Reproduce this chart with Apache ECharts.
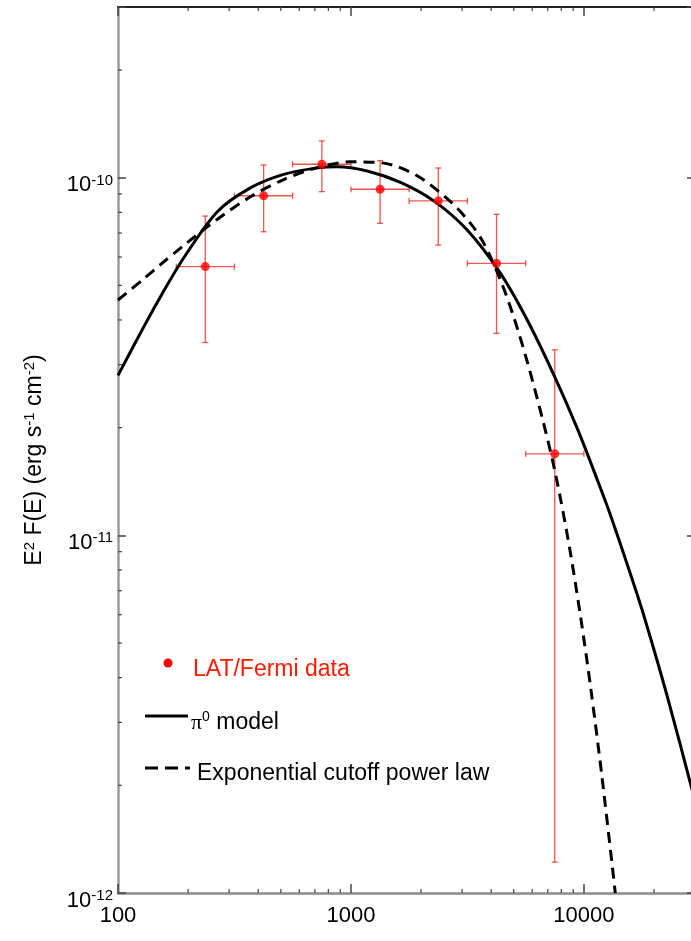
<!DOCTYPE html>
<html><head><meta charset="utf-8">
<script src="https://cdn.jsdelivr.net/npm/echarts@6/dist/echarts.min.js"></script>
<style>html,body{margin:0;padding:0;background:#fff}#c{width:691px;height:941px}</style>
</head><body><div id="c"></div>
<script>
// LAT/Fermi data points
const energy   = [237, 422, 750, 1334, 2371, 4217, 7499];
const eLow     = [178, 316, 562, 1000, 1778, 3162, 5623];
const eHigh    = [316, 562, 1000, 1778, 3162, 5623, 10000];
const flux     = [5.64e-11, 8.9e-11, 1.09e-10, 9.28e-11, 8.61e-11, 5.76e-11, 1.69e-11];
const fluxLow  = [3.46e-11, 7.06e-11, 9.14e-11, 7.45e-11, 6.48e-11, 3.67e-11, 1.22e-12];
const fluxHigh = [7.81e-11, 1.085e-10, 1.267e-10, 1.116e-10, 1.064e-10, 7.9e-11, 3.30e-11];

// pi0 model curve
const piE = [100, 128.8, 152, 191.3, 266.3, 370.1, 514.4, 715.9, 872.4, 1174, 1632, 2268, 3156, 4387, 5713, 7431, 9367, 11419, 13023, 15873, 18102, 22880, 30000];
const piF = [2.80e-11, 3.82e-11, 4.64e-11, 5.96e-11, 8.02e-11, 9.36e-11, 1.021e-10, 1.065e-10, 1.073e-10, 1.044e-10, 9.70e-11, 8.61e-11, 7.14e-11, 5.40e-11, 4.00e-11, 2.81e-11, 1.99e-11, 1.43e-11, 1.136e-11, 7.77e-12, 5.96e-12, 3.52e-12, 1.81e-12];

// exponential cutoff power law curve
const cutE = [100, 128.8, 152, 191.3, 266.3, 370.1, 514.4, 715.9, 995.2, 1383, 1925, 2676, 3261, 3720, 4387, 5004, 5713, 6627, 7317, 7943, 8769, 9678, 10686, 11995, 13645];
const cutF = [4.55e-11, 5.21e-11, 5.71e-11, 6.46e-11, 7.64e-11, 8.84e-11, 9.88e-11, 1.067e-10, 1.107e-10, 1.098e-10, 1.012e-10, 8.57e-11, 7.45e-11, 6.55e-11, 5.17e-11, 4.07e-11, 3.06e-11, 2.13e-11, 1.633e-11, 1.264e-11, 8.88e-12, 5.93e-12, 3.77e-12, 2.08e-12, 1.0e-12];

// axes
const xMajorTicks = [100, 1000, 10000];
const xTickLabels = ['100', '1000', '10000'];
const yMajorTicks = [1e-12, 1e-11, 1e-10];
const yTickExponents = ['-12', '-11', '-10'];
const xMinorTicks = [200, 300, 400, 500, 600, 700, 800, 900, 2000, 3000, 4000, 5000, 6000, 7000, 8000, 9000, 20000];
const yMinorTicks = [2e-12, 3e-12, 4e-12, 5e-12, 6e-12, 7e-12, 8e-12, 9e-12, 2e-11, 3e-11, 4e-11, 5e-11, 6e-11, 7e-11, 8e-11, 9e-11, 2e-10];
const X_MIN = 100, X_MAX = 30000, Y_MIN = 1e-12, Y_MAX = 3e-10;

const FONT = 'Liberation Sans, Arial, Helvetica, sans-serif';
function matchIndex(arr, v) {
  for (let i = 0; i < arr.length; i++) if (Math.abs(Math.log10(v) - Math.log10(arr[i])) < 1e-6) return i;
  return -1;
}

const chart = echarts.init(document.getElementById('c'), null, {renderer: 'canvas'});

const tickLine = {color: '#444', width: 1.5};
const minorData = xMinorTicks.map(v => [v, 0]).concat(yMinorTicks.map(v => [v, 1]));

const option = {
  animation: false,
  backgroundColor: '#fff',
  grid: {left: 118, right: -4, top: 7, bottom: 48, containLabel: false, outerBoundsMode: 'none'},
  xAxis: [
    {type: 'log', logBase: 10, min: X_MIN, max: X_MAX, position: 'bottom',
     axisLine: {show: true, lineStyle: {color: '#8c8c8c', width: 2.5}},
     axisTick: {show: true, inside: true, length: 9, lineStyle: tickLine},
     axisLabel: {show: true, margin: 12, fontSize: 22, color: '#000', fontFamily: FONT,
       formatter: v => { const i = matchIndex(xMajorTicks, v); return i < 0 ? '' : xTickLabels[i]; }},
     splitLine: {show: false}, minorTick: {show: false}},
    {type: 'log', logBase: 10, min: X_MIN, max: X_MAX, position: 'top',
     axisLine: {show: true, lineStyle: {color: '#222', width: 2}},
     axisTick: {show: true, inside: true, length: 9, lineStyle: tickLine},
     axisLabel: {show: false}, splitLine: {show: false}}
  ],
  yAxis: [
    {type: 'log', logBase: 10, min: Y_MIN, max: Y_MAX, position: 'left',
     axisLine: {show: true, lineStyle: {color: '#9a9a9a', width: 2.5}},
     axisTick: {show: true, inside: true, length: 8, lineStyle: tickLine},
     axisLabel: {show: true, margin: 5, padding: [15, 0, 0, 0],
       formatter: v => { const i = matchIndex(yMajorTicks, v); return i < 0 ? '' : '{b|10}{s|' + yTickExponents[i] + '}'; },
       rich: {b: {fontSize: 22, lineHeight: 24, color: '#000', fontFamily: FONT},
              s: {fontSize: 15, lineHeight: 13, verticalAlign: 'top', color: '#000', fontFamily: FONT}}},
     splitLine: {show: false},
     name: 'E{s|2} F(E) (erg s{s|-1} cm{s|-2})', nameLocation: 'middle', nameRotate: 90, nameGap: 70,
     nameTextStyle: {fontSize: 23, lineHeight: 26, color: '#000', fontFamily: FONT, padding: [0, 20, 0, 0],
       rich: {s: {fontSize: 15, lineHeight: 13, verticalAlign: 'top', color: '#000', fontFamily: FONT}}}},
    {type: 'log', logBase: 10, min: Y_MIN, max: Y_MAX, position: 'right',
     axisLine: {show: true, lineStyle: {color: '#222', width: 2}},
     axisTick: {show: true, inside: true, length: 8, lineStyle: tickLine},
     axisLabel: {show: false}, splitLine: {show: false}}
  ],
  graphic: [
    {type: 'circle', shape: {cx: 168, cy: 663, r: 4.5}, style: {fill: '#ff0000'}},
    {type: 'text', x: 193, y: 670, style: {text: 'LAT/Fermi data', fill: '#ff1a00', fontSize: 23, fontFamily: FONT, verticalAlign: 'middle'}},
    {type: 'line', shape: {x1: 145, y1: 716, x2: 188, y2: 716}, style: {stroke: '#000', lineWidth: 3}},
    {type: 'text', x: 191, y: 723, style: {text: '{p|π}{s|0} model', fill: '#000', fontSize: 23, fontFamily: FONT, verticalAlign: 'middle',
       rich: {p: {fontSize: 22, fontFamily: 'Liberation Serif, DejaVu Serif, serif', lineHeight: 26}, s: {fontSize: 14, lineHeight: 13, verticalAlign: 'top', fontFamily: FONT}}}},
    {type: 'line', shape: {x1: 145, y1: 768, x2: 190, y2: 768}, style: {stroke: '#000', lineWidth: 3, lineDash: [13, 7]}},
    {type: 'text', x: 197, y: 774, style: {text: 'Exponential cutoff power law', fill: '#000', fontSize: 23, fontFamily: FONT, verticalAlign: 'middle'}}
  ],
  series: [
    {type: 'custom', name: 'minor ticks', xAxisIndex: 0, yAxisIndex: 0, silent: true, z: 5,
     data: minorData,
     renderItem(params, api) {
       const v = api.value(0), kind = api.value(1);
       const st = {stroke: '#444', lineWidth: 1.2};
       if (kind === 0) {
         const b = api.coord([v, Y_MIN]), t = api.coord([v, Y_MAX]);
         return {type: 'group', children: [
           {type: 'line', shape: {x1: b[0], y1: b[1], x2: b[0], y2: b[1] - 4}, style: st},
           {type: 'line', shape: {x1: t[0], y1: t[1], x2: t[0], y2: t[1] + 4}, style: st}]};
       }
       const l = api.coord([X_MIN, v]), r = api.coord([X_MAX, v]);
       return {type: 'group', children: [
         {type: 'line', shape: {x1: l[0], y1: l[1], x2: l[0] + 4, y2: l[1]}, style: st},
         {type: 'line', shape: {x1: r[0], y1: r[1], x2: r[0] - 4, y2: r[1]}, style: st}]};
     }},
    {type: 'custom', name: 'error bars', xAxisIndex: 0, yAxisIndex: 0, z: 2,
     data: energy.map((e, i) => [e, flux[i], eLow[i], eHigh[i], fluxLow[i], fluxHigh[i]]),
     encode: {x: 0, y: 1},
     renderItem(params, api) {
       const c = api.coord([api.value(0), api.value(1)]);
       const l = api.coord([api.value(2), api.value(1)]);
       const r = api.coord([api.value(3), api.value(1)]);
       const lo = api.coord([api.value(0), api.value(4)]);
       const hi = api.coord([api.value(0), api.value(5)]);
       const cap = 3;
       const st = {stroke: 'rgba(235,45,35,0.8)', lineWidth: 1.3};
       return {type: 'group', children: [
         {type: 'line', shape: {x1: l[0], y1: c[1], x2: r[0], y2: c[1]}, style: st},
         {type: 'line', shape: {x1: l[0], y1: c[1] - cap, x2: l[0], y2: c[1] + cap}, style: st},
         {type: 'line', shape: {x1: r[0], y1: c[1] - cap, x2: r[0], y2: c[1] + cap}, style: st},
         {type: 'line', shape: {x1: c[0], y1: lo[1], x2: c[0], y2: hi[1]}, style: st},
         {type: 'line', shape: {x1: c[0] - cap, y1: lo[1], x2: c[0] + cap, y2: lo[1]}, style: st},
         {type: 'line', shape: {x1: c[0] - cap, y1: hi[1], x2: c[0] + cap, y2: hi[1]}, style: st}]};
     }},
    {type: 'line', name: 'pi0 model', xAxisIndex: 0, yAxisIndex: 0, z: 3,
     data: piE.map((e, i) => [e, piF[i]]), showSymbol: false, smooth: 0.3, clip: true,
     lineStyle: {color: '#000', width: 3}},
    {type: 'line', name: 'Exponential cutoff power law', xAxisIndex: 0, yAxisIndex: 0, z: 3,
     data: cutE.map((e, i) => [e, cutF[i]]), showSymbol: false, smooth: 0.3, clip: true,
     lineStyle: {color: '#000', width: 3, type: [11, 7]}},
    {type: 'scatter', name: 'LAT/Fermi data', xAxisIndex: 0, yAxisIndex: 0, z: 4,
     data: energy.map((e, i) => [e, flux[i]]), symbol: 'circle', symbolSize: 9,
     itemStyle: {color: '#ff0000'}}
  ]
};
chart.setOption(option);
</script>
</body></html>
